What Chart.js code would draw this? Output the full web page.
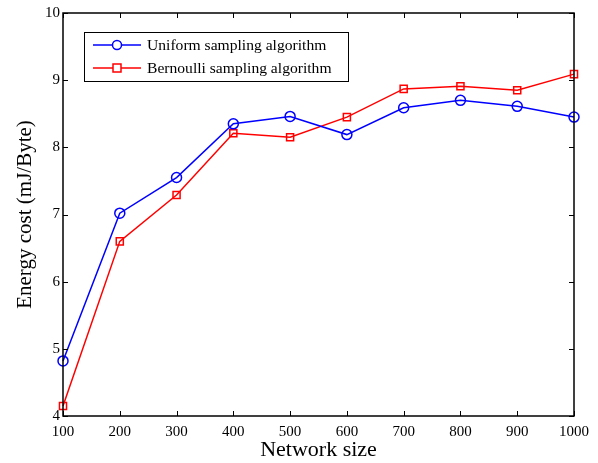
<!DOCTYPE html>
<html>
<head>
<meta charset="utf-8">
<script src="https://cdn.jsdelivr.net/npm/chart.js@4/dist/chart.umd.min.js"></script>
<style>
  html, body { margin: 0; padding: 0; background: #fff; }
  #wrap { width: 598px; height: 463px; }
</style>
</head>
<body>
<div id="wrap"><canvas id="energyChart" width="598" height="463"></canvas></div>
<script>
// Network sizes (x) and energy cost (mJ/Byte)
const networkSizes = [100, 200, 300, 400, 500, 600, 700, 800, 900, 1000];
const uniformCost = [4.82, 7.02, 7.55, 8.35, 8.46, 8.19, 8.59, 8.70, 8.61, 8.45];
const bernoulliCost = [4.15, 6.60, 7.29, 8.21, 8.15, 8.45, 8.87, 8.91, 8.85, 9.09];
const seriesNames = ['Uniform sampling algorithm', 'Bernoulli sampling algorithm'];

const serif = '"Liberation Serif", "Times New Roman", serif';

function toPoints(vals) {
    return networkSizes.map((x, i) => ({ x: x, y: vals[i] }));
}

// box around the plot with inward ticks on every side
const boxPlugin = {
    id: 'boxPlugin',
    afterDraw(chart) {
        const ctx = chart.ctx;
        const a = chart.chartArea;
        const xs = chart.scales.x, ys = chart.scales.y;
        const len = 5;
        ctx.save();
        ctx.strokeStyle = '#000';
        ctx.lineWidth = 1;
        ctx.beginPath();
        xs.ticks.forEach(t => {
            const px = Math.round(xs.getPixelForValue(t.value)) + 0.5;
            ctx.moveTo(px, a.bottom); ctx.lineTo(px, a.bottom - len);
            ctx.moveTo(px, a.top); ctx.lineTo(px, a.top + len);
        });
        ys.ticks.forEach(t => {
            const py = Math.round(ys.getPixelForValue(t.value)) + 0.5;
            ctx.moveTo(a.left, py); ctx.lineTo(a.left + len, py);
            ctx.moveTo(a.right, py); ctx.lineTo(a.right - len, py);
        });
        ctx.stroke();
        ctx.lineWidth = 1.5;
        ctx.strokeRect(a.left, a.top, a.right - a.left, a.bottom - a.top);

        // legend box
        const lx = 84, ly = 32, lw = 264, lh = 49;
        ctx.fillStyle = '#fff';
        ctx.fillRect(lx, ly, lw, lh);
        ctx.lineWidth = 1;
        ctx.strokeRect(lx + 0.5, ly + 0.5, lw, lh);
        ctx.font = '15.6px ' + serif;
        ctx.textBaseline = 'middle';
        chart.data.datasets.forEach((ds, i) => {
            const y = ly + 13 + i * 23;
            ctx.strokeStyle = ds.borderColor;
            ctx.lineWidth = 1.5;
            ctx.beginPath();
            ctx.moveTo(lx + 9, y); ctx.lineTo(lx + 57, y);
            ctx.stroke();
            ctx.beginPath();
            if (ds.pointStyle === 'circle') {
                ctx.arc(lx + 33, y, 4.5, 0, Math.PI * 2);
            } else {
                ctx.rect(lx + 29, y - 4, 8, 8);
            }
            ctx.fillStyle = '#fff';
            ctx.fill();
            ctx.stroke();
            ctx.fillStyle = '#000';
            ctx.fillText(ds.label, lx + 63, y + 1);
        });
        ctx.restore();
    }
};

const ctx = document.getElementById('energyChart').getContext('2d');
new Chart(ctx, {
    type: 'line',
    data: {
        datasets: [{
            label: seriesNames[0],
            data: toPoints(uniformCost),
            borderColor: '#0000ff',
            backgroundColor: '#ffffff',
            borderWidth: 1.5,
            pointStyle: 'circle',
            pointRadius: 5,
            pointBorderWidth: 1.5,
            pointBackgroundColor: 'rgba(255,255,255,0)',
            tension: 0
        }, {
            label: seriesNames[1],
            data: toPoints(bernoulliCost),
            borderColor: '#ff0000',
            backgroundColor: '#ffffff',
            borderWidth: 1.5,
            pointStyle: 'rect',
            pointRadius: 5,
            pointBorderWidth: 1.5,
            pointBackgroundColor: 'rgba(255,255,255,0)',
            tension: 0
        }]
    },
    options: {
        responsive: false,
        animation: false,
        clip: false,
        layout: { padding: { left: 0, right: 24, top: 13, bottom: 0 } },
        plugins: {
            legend: { display: false },
            tooltip: { enabled: false }
        },
        scales: {
            x: {
                type: 'linear',
                min: 100,
                max: 1000,
                grid: { display: false, drawTicks: false },
                border: { display: false },
                ticks: { stepSize: 100, color: '#000', padding: 7, maxRotation: 0,
                    callback: v => String(v),
                    font: { family: serif, size: 15 } },
                title: { display: true, text: 'Network size', color: '#000',
                    font: { family: serif, size: 22 }, padding: { top: 0, bottom: 0 } },
                afterFit: s => { s.height = 47; }
            },
            y: {
                min: 4,
                max: 10,
                grid: { display: false, drawTicks: false },
                border: { display: false },
                ticks: { stepSize: 1, color: '#000', padding: 3,
                    font: { family: serif, size: 15 } },
                title: { display: true, text: 'Energy cost (mJ/Byte)', color: '#000',
                    font: { family: serif, size: 21 }, padding: { top: 13, bottom: 0 } },
                afterFit: s => { s.width = 63; }
            }
        }
    },
    plugins: [boxPlugin]
});
</script>
</body>
</html>
